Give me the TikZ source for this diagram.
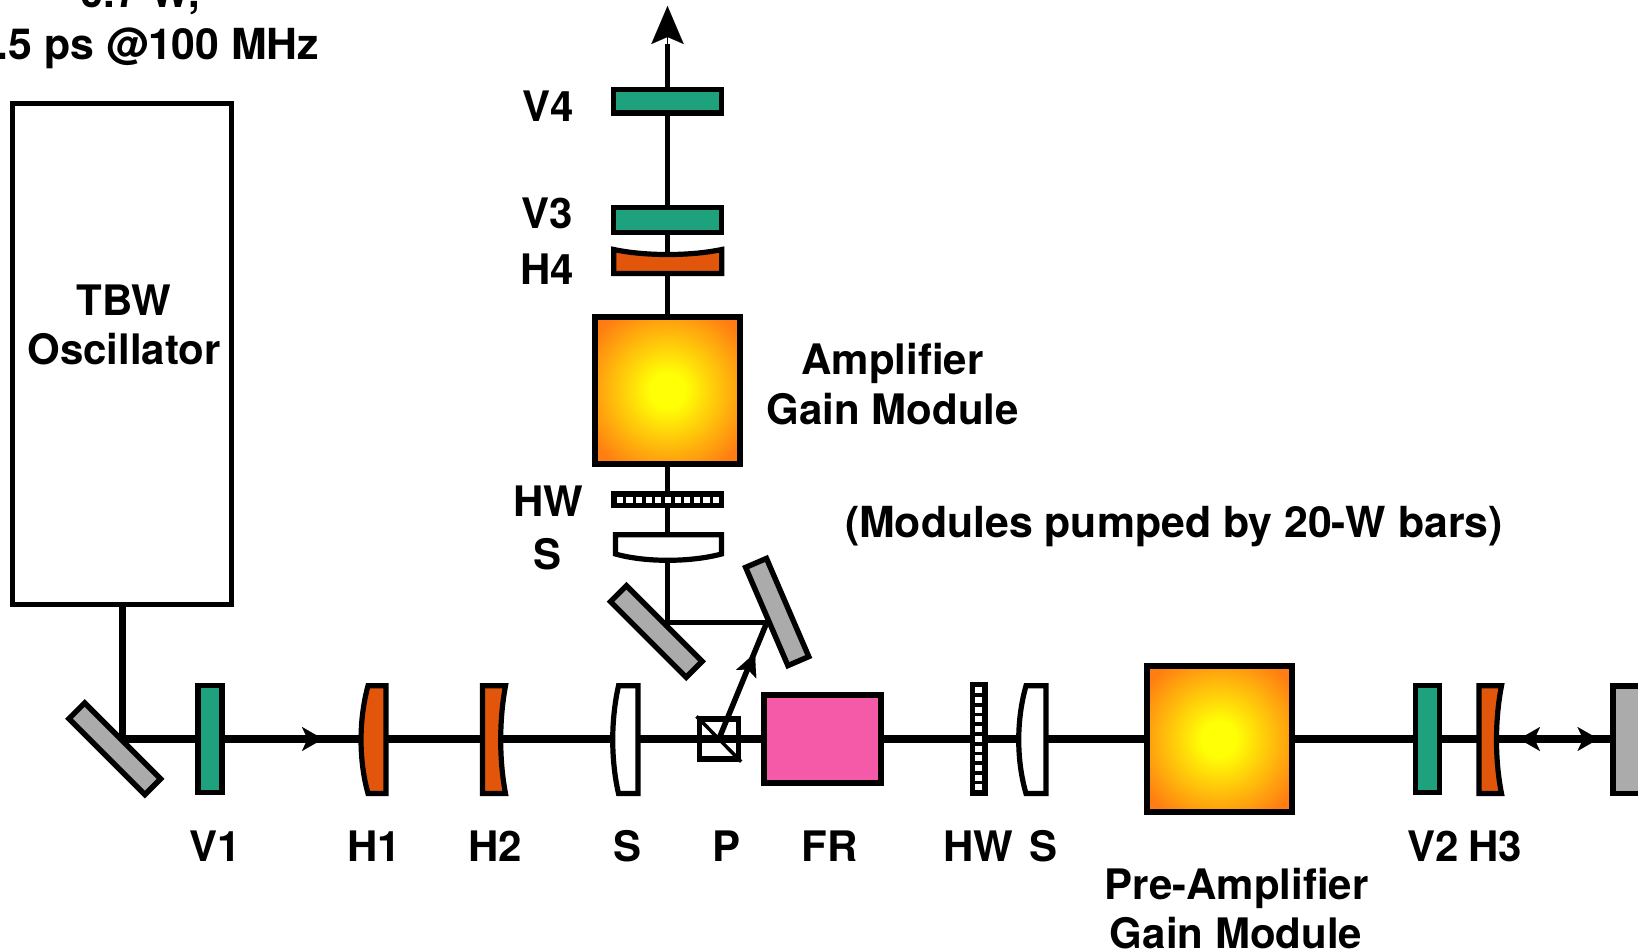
\documentclass[tikz,border=0pt]{standalone}
\usepackage{fontspec}
\setmainfont{TeX Gyre Heros}
\usetikzlibrary{arrows.meta}
\definecolor{vplate}{HTML}{1DA27D}
\definecolor{hlens}{HTML}{E2560B}
\definecolor{mirrorgray}{HTML}{ABABAB}
\definecolor{frpink}{HTML}{F55AA8}
\pgfdeclareradialshading{gainshade}{\pgfpoint{0bp}{0bp}}{%
  rgb(0bp)=(1,1,0.02); rgb(6bp)=(1,1,0.02); rgb(31bp)=(1,0.49,0.07); rgb(50bp)=(1,0.46,0.07)}
\pgfdeclarelayer{bg}
\pgfsetlayers{bg,main}
\tikzset{
  elem/.style={draw=black,line width=5.4pt,rectangle,inner sep=0pt,miter limit=10},
  vplatebox/.style={elem,fill=vplate},
  mirrorbox/.style={elem,fill=mirrorgray},
  gainbox/.style={elem,line width=6pt,shading=gainshade},
  lensH/.style={draw=black,line width=5.2pt,fill=hlens,line join=miter},
  lensS/.style={draw=black,line width=5.2pt,fill=white,line join=miter},
  anchorpt/.style={inner sep=0pt,minimum size=0pt},
  beam/.style={draw=black,line width=8pt},
  thinbeam/.style={draw=black,line width=5.5pt},
  lab/.style={anchor=base,inner sep=0pt,font=\fontsize{42}{42}\selectfont\bfseries},
  labwide/.style={inner sep=0pt,font=\fontsize{42.8}{42.8}\selectfont\bfseries},
  headtip/.style={-{Stealth[length=21pt,width=24pt,inset=5.5pt]}},
}
\begin{document}
\begin{tikzpicture}[x=1pt,y=-1pt]
\useasboundingbox (0,0) rectangle (1638,952);
\clip (0,0) rectangle (1638,952);

% --- elements drawn as boxes
\node[elem,minimum width=219.3pt,minimum height=501pt] (osc) at (121.9,354) {};
\node[mirrorbox,rotate=-45,minimum width=107.4pt,minimum height=22.2pt] (M1) at (114.8,748.8) {};
\node[vplatebox,minimum width=24pt,minimum height=107.3pt] (V1) at (209.8,739) {};
\node[vplatebox,minimum width=23.6pt,minimum height=107.3pt] (V2) at (1427.5,739) {};
\node[vplatebox,minimum width=108pt,minimum height=23.4pt] (V4) at (667.5,101.5) {};
\node[vplatebox,minimum width=108pt,minimum height=24.4pt] (V3) at (667.5,220) {};
\node[elem,fill=frpink,line width=6pt,minimum width=117pt,minimum height=88pt] (FR) at (822.7,739) {};
\node[gainbox,minimum width=145pt,minimum height=146.3pt] (Pre) at (1219,739) {};
\node[gainbox,minimum width=145.8pt,minimum height=146.4pt] (Amp) at (667.5,390.5) {};
\node[mirrorbox,rotate=-45,minimum width=107pt,minimum height=22.6pt] (M2) at (656.3,631.5) {};
\node[mirrorbox,rotate=-66.7,minimum width=106.9pt,minimum height=22.7pt] (M3) at (777.2,612) {};
\node[mirrorbox,minimum width=35pt,minimum height=107.3pt] (M4) at (1630.5,739.7) {};

% --- half-wave plates
\node[fill=black,inner sep=0pt,minimum width=17.7pt,minimum height=113.4pt] (HWa) at (978.8,739) {};
\foreach \i in {0,...,10}
  \fill[white] ({978.8-3.5},{690.3+9.7*\i-3}) rectangle ++(7,6);
\node[fill=black,inner sep=0pt,minimum width=113pt,minimum height=17pt] (HWb) at (667.5,499.8) {};
\foreach \i in {0,...,10}
  \fill[white] ({619.7+9.66*\i-3.15},{499.8-3}) rectangle ++(6.3,6);

% --- curved lenses, each with a named centre
\node[anchorpt] (H1) at (374,739) {};
\path[lensH] (386,685.8) -- (368,685.8) .. controls (358.7,720) and (358.7,760) .. (368,793.5) -- (386,793.5) -- cycle;
\node[anchorpt] (H2) at (492,739) {};
\path[lensH] (482.5,685.8) -- (505.5,685.8) .. controls (499.1,720) and (499.1,760) .. (505.5,793.5) -- (482.5,793.5) -- cycle;
\node[anchorpt] (S1) at (626,739) {};
\path[lensS] (638,685.8) -- (618.5,685.8) .. controls (610.8,720) and (610.8,760) .. (618.5,793.5) -- (638,793.5) -- cycle;
\node[anchorpt] (S2) at (1034,739) {};
\path[lensS] (1046,685.8) -- (1026,685.8) .. controls (1016.3,720) and (1016.3,760) .. (1026,793.5) -- (1046,793.5) -- cycle;
\node[anchorpt] (H3) at (1489,739) {};
\path[lensH] (1479,685.8) -- (1501.5,685.8) .. controls (1494.8,720) and (1494.8,760) .. (1501.5,793.5) -- (1479,793.5) -- cycle;
\node[anchorpt] (H4) at (667.5,262) {};
\path[lensH] (613.8,249.5) .. controls (645,256.2) and (690,256.2) .. (721.8,249.5) -- (721.8,273.5) -- (613.8,273.5) -- cycle;
\node[anchorpt] (S4) at (667.5,545) {};
\path[lensS] (615.5,534.8) -- (721.5,534.8) -- (721.5,554) .. controls (690,562.4) and (645,562.4) .. (615.5,554) -- cycle;

% --- beam end points
\coordinate (hitA) at (122.6,739);
\coordinate (backA) at (302,739);
\coordinate (tipA) at (323,739);
\coordinate (tipL) at (1519,739);
\coordinate (backL) at (1540,739);
\coordinate (tipR) at (1598.5,739);
\coordinate (backR) at (1577.5,739);
\coordinate (hitB) at (667.5,622.7);
\coordinate (hitC) at (766.7,622.7);
\coordinate (backP) at (746,674.5);
\coordinate (tipP) at (755,653);
\coordinate (backO) at (667.5,44);
\coordinate (outTip) at (667.5,6);

% --- beams, under the elements
\begin{pgfonlayer}{bg}
  \node[elem,fill=white,minimum width=39.3pt,minimum height=40pt] (P) at (718.85,739) {};
  \draw[draw=black,line width=3.5pt] (P.north west) -- (P.south east);
  \draw[draw=black,line width=6.6pt] (osc.south -| hitA) -- (hitA);
  \draw[beam] (hitA) -- (V1.center) -- (H1.center) -- (H2.center) -- (S1.center) -- (P.center) -- (FR.center) -- (HWa.center) -- (S2.center) -- (Pre.center) -- (V2.center) -- (H3.center) -- (M4.center |- hitA);
  \draw[thinbeam] (hitB) -- (S4.center) -- (HWb.center) -- (Amp.center) -- (H4.center) -- (V3.center) -- (V4.center) -- (backO);
  \draw[thinbeam] (hitB) -- (hitC);
  \draw[thinbeam] (P.center) -- (hitC);
\end{pgfonlayer}

% --- arrowheads on the beams
\begin{pgfonlayer}{bg}
  \path[draw=black,line width=0.1pt,headtip] (backA) -- (tipA);
  \path[draw=black,line width=0.1pt,headtip] (backL) -- (tipL);
  \path[draw=black,line width=0.1pt,headtip] (backR) -- (tipR);
  \path[draw=black,line width=0.1pt,-{Stealth[length=23pt,width=22pt,inset=5pt]}] (backP) -- (tipP);
  \path[draw=black,line width=0.1pt,-{Stealth[length=38pt,width=32.3pt,inset=7pt]}] (backO) -- (outTip);
\end{pgfonlayer}

% --- labels
\node[lab,anchor=base] (t1) at (140,8) {0.7 W,};
\node[labwide,anchor=base east] (t2) at (319.5,59.3) {.5 ps @100 MHz};
\node[lab] (tbw) at (124,315.5) {TBW};
\node[lab] (oscl) at (124,364.6) {Oscillator};
\node[lab] (lV1) at (215,861.7) {V1};
\node[lab] (lH1) at (374,861.7) {H1};
\node[lab] (lH2) at (495.5,861.7) {H2};
\node[lab] (lS1) at (627,861.7) {S};
\node[lab] (lP) at (726,861.7) {P};
\node[lab] (lFR) at (829.5,861.7) {FR};
\node[lab] (lHW) at (978,861.7) {HW};
\node[lab] (lS2) at (1043.5,861.7) {S};
\node[lab] (lV2) at (1433.2,861.7) {V2};
\node[lab] (lH3) at (1495.4,861.7) {H3};
\node[lab] (lPre) at (1236.5,899) {Pre-Amplifier};
\node[lab] (lGain) at (1236,948) {Gain Module};
\node[lab] (lV4) at (548,122) {V4};
\node[lab] (lV3) at (547.5,228.7) {V3};
\node[lab] (lH4) at (547.5,284.3) {H4};
\node[lab] (lHWb) at (548.3,516) {HW};
\node[lab] (lSb) at (547,569.7) {S};
\node[lab] (lAmp) at (892.5,374) {Amplifier};
\node[lab] (lGainb) at (892.7,424) {Gain Module};
\node[labwide,anchor=base] (lMod) at (1174,537) {(Modules pumped by 20-W bars)};
\end{tikzpicture}
\end{document}
